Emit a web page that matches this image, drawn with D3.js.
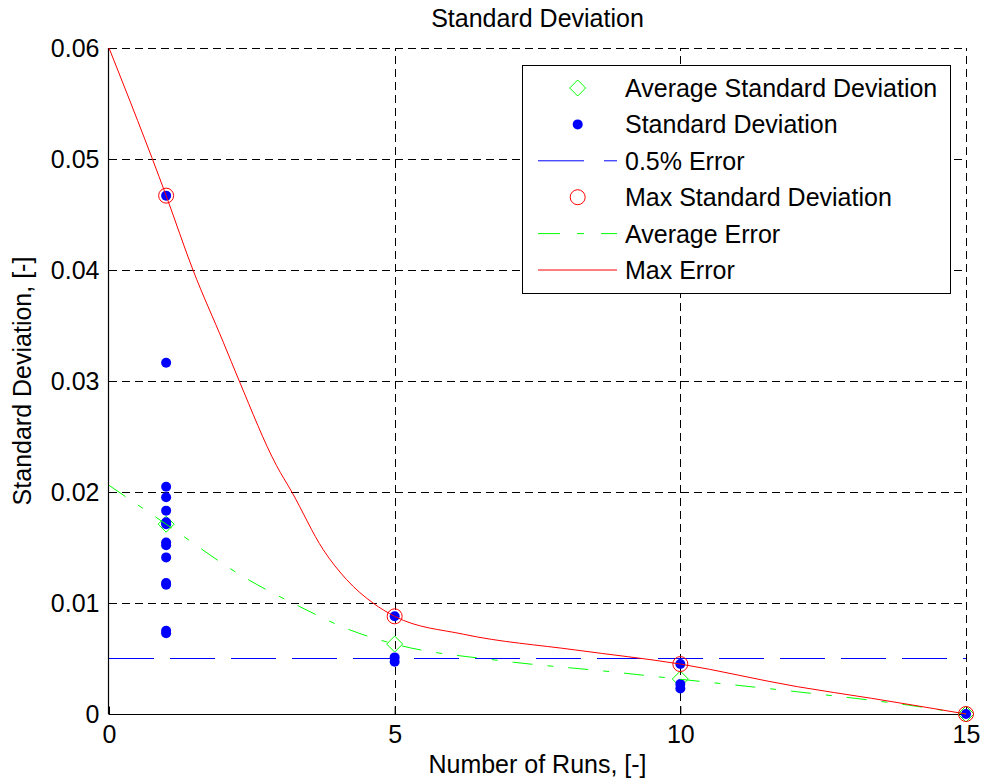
<!DOCTYPE html>
<html>
<head>
<meta charset="utf-8">
<script src="https://cdn.jsdelivr.net/npm/d3@7/dist/d3.min.js"></script>
<style>
  html, body { margin: 0; padding: 0; background: #fff; }
  svg text { font-family: "Liberation Sans", Arial, Helvetica, sans-serif; fill: #000; }
</style>
</head>
<body>
<svg id="chart" width="985" height="784"></svg>
<script>
// Individual standard deviations per number of runs
const sdRuns   = [1, 1, 1, 1, 1, 1, 1, 1, 1, 1, 1, 1, 1, 1,
                  5, 5, 5, 10, 10, 10, 15];
const sdValues = [0.0467, 0.03165, 0.02048, 0.01952, 0.01832, 0.01727, 0.01545, 0.0152,
                  0.01411, 0.0118, 0.01165, 0.0075, 0.00728,
                  0.0171,
                  0.0088, 0.0051, 0.0047, 0.0045, 0.0027, 0.0023, 0];

// Summary markers
const runs   = [1, 5, 10, 15];
const avgStd = [0.0171, 0.0063, 0.00315, 0];
const maxStd = [0.0467, 0.0088, 0.0045, 0];

// Error threshold
const errorLevel = 0.005;

// Fitted error curves
const avgErrX = [0, 1, 2.35, 3.34, 4.22, 5, 6.86, 8.8, 10, 12.05, 13.99, 15];
const avgErrY = [0.0206, 0.0171, 0.01237, 0.00967, 0.00757, 0.0063, 0.0048, 0.0038, 0.00313, 0.0020, 0.0008, 0];
const maxErrX = [0, 1, 1.47, 2, 2.28, 2.93, 3.2, 3.75, 4.16, 4.62, 5, 6.21, 8.16, 10, 12.05, 13.35, 15];
const maxErrY = [0.06, 0.0467, 0.04, 0.0335, 0.03, 0.0224, 0.02, 0.0148, 0.0121, 0.01, 0.0088, 0.00718, 0.00577, 0.0045, 0.00246, 0.00141, 0];

// Axis ticks
const xTicks = [0, 5, 10, 15];
const yTicks = [0, 0.01, 0.02, 0.03, 0.04, 0.05, 0.06];
const yTickLabels = ["0", "0.01", "0.02", "0.03", "0.04", "0.05", "0.06"];

const legendItems = ["Average Standard Deviation", "Standard Deviation", "0.5% Error",
                     "Max Standard Deviation", "Average Error", "Max Error"];

const svg = d3.select("#chart");
const L = 109, R = 966, T = 48, B = 714;
const FS = 25;

const x = d3.scaleLinear().domain([0, 15]).range([L, R]);
const y = d3.scaleLinear().domain([0, 0.06]).range([B, T]);

svg.append("rect").attr("width", 985).attr("height", 784).attr("fill", "#fff");

// grid
const grid = svg.append("g").attr("stroke", "#000").attr("stroke-width", 1)
  .attr("stroke-dasharray", "8,5").attr("shape-rendering", "crispEdges");
grid.selectAll("line.gx").data(xTicks.slice(1)).join("line")
  .attr("x1", d => Math.round(x(d)) + 0.5).attr("x2", d => Math.round(x(d)) + 0.5)
  .attr("y1", B).attr("y2", T);
grid.selectAll("line.gy").data(yTicks.slice(1)).join("line")
  .attr("y1", d => Math.round(y(d)) + 0.5).attr("y2", d => Math.round(y(d)) + 0.5)
  .attr("x1", L).attr("x2", R);

// axes
const xAxis = d3.axisBottom(x).tickValues(xTicks).tickSize(-8).tickPadding(11).tickFormat(d3.format("d"));
const yAxis = d3.axisLeft(y).tickValues(yTicks).tickSize(-8).tickPadding(9)
  .tickFormat((d, i) => yTickLabels[i]);

const gx = svg.append("g").attr("transform", `translate(0,${B + 0.5})`).call(xAxis);
const gy = svg.append("g").attr("transform", `translate(${L - 0.5},0)`).call(yAxis);
[gx, gy].forEach(g => {
  g.select(".domain").attr("stroke", "#000").attr("stroke-width", 1.2);
  g.selectAll(".tick line").attr("stroke", "#000");
  g.selectAll(".tick text").attr("font-size", FS).attr("font-family", "Liberation Sans, Arial, sans-serif");
});
gx.select(".domain").attr("d", `M${L},0H${R}`);
gy.select(".domain").attr("d", `M0,${B}V${T}`);

// plot content
const plot = svg.append("g");

// average standard deviation diamonds
const dS = 8;
plot.selectAll("path.avg").data(runs).join("path")
  .attr("d", (d, i) => {
    const cx = x(d), cy = y(avgStd[i]);
    return `M${cx},${cy - dS}L${cx + dS},${cy}L${cx},${cy + dS}L${cx - dS},${cy}Z`;
  })
  .attr("fill", "none").attr("stroke", "#00ff00").attr("stroke-width", 1);

// individual standard deviations
plot.selectAll("circle.sd").data(sdValues).join("circle")
  .attr("cx", (d, i) => x(sdRuns[i])).attr("cy", d => y(d)).attr("r", 5)
  .attr("fill", "#0000ff");

// 0.5% error threshold
plot.append("line")
  .attr("x1", x(0)).attr("x2", x(15)).attr("y1", y(errorLevel)).attr("y2", y(errorLevel))
  .attr("stroke", "#0000ff").attr("stroke-width", 1).attr("stroke-dasharray", "45,16");

// max standard deviation circles
plot.selectAll("circle.max").data(runs).join("circle")
  .attr("cx", d => x(d)).attr("cy", (d, i) => y(maxStd[i])).attr("r", 7.5)
  .attr("fill", "none").attr("stroke", "#ff0000").attr("stroke-width", 1);

const line = d3.line().x(d => x(d[0])).y(d => y(d[1])).curve(d3.curveMonotoneX);

// average error curve
plot.append("path").datum(avgErrX.map((v, i) => [v, avgErrY[i]]))
  .attr("d", line).attr("fill", "none").attr("stroke", "#00ff00").attr("stroke-width", 1)
  .attr("stroke-dasharray", "20,15,6,15");

// max error curve
plot.append("path").datum(maxErrX.map((v, i) => [v, maxErrY[i]]))
  .attr("d", line).attr("fill", "none").attr("stroke", "#ff0000").attr("stroke-width", 1);

// title and axis labels
svg.append("text").attr("x", (L + R) / 2).attr("y", 27).attr("text-anchor", "middle")
  .attr("font-size", FS).text("Standard Deviation");
svg.append("text").attr("x", (L + R) / 2).attr("y", 773).attr("text-anchor", "middle")
  .attr("font-size", FS).text("Number of Runs, [-]");
svg.append("text").attr("transform", `translate(31,${(T + B) / 2}) rotate(-90)`)
  .attr("text-anchor", "middle").attr("font-size", FS).text("Standard Deviation, [-]");

// legend
const lg = svg.append("g");
lg.append("rect").attr("x", 522.5).attr("y", 65.5).attr("width", 428).attr("height", 228)
  .attr("fill", "#fff").attr("stroke", "#000").attr("stroke-width", 1);
const rowY = i => 88 + i * 36.4;
const mx = 577.7, lx1 = 538, lx2 = 617, tx = 625;
legendItems.forEach((t, i) => {
  lg.append("text").attr("x", tx).attr("y", rowY(i) + 9).attr("font-size", FS).text(t);
});
// legend samples
lg.append("path")
  .attr("d", `M${mx},${rowY(0) - dS}L${mx + dS},${rowY(0)}L${mx},${rowY(0) + dS}L${mx - dS},${rowY(0)}Z`)
  .attr("fill", "none").attr("stroke", "#00ff00");
lg.append("circle").attr("cx", mx).attr("cy", rowY(1)).attr("r", 5).attr("fill", "#0000ff");
lg.append("line").attr("x1", lx1).attr("x2", lx2).attr("y1", rowY(2)).attr("y2", rowY(2))
  .attr("stroke", "#0000ff").attr("stroke-dasharray", "46,20");
lg.append("circle").attr("cx", mx).attr("cy", rowY(3)).attr("r", 7.5)
  .attr("fill", "none").attr("stroke", "#ff0000");
lg.append("line").attr("x1", lx1).attr("x2", lx2).attr("y1", rowY(4)).attr("y2", rowY(4))
  .attr("stroke", "#00ff00").attr("stroke-dasharray", "22,17,7,17");
lg.append("line").attr("x1", lx1).attr("x2", lx2).attr("y1", rowY(5)).attr("y2", rowY(5))
  .attr("stroke", "#ff0000");
</script>
</body>
</html>
